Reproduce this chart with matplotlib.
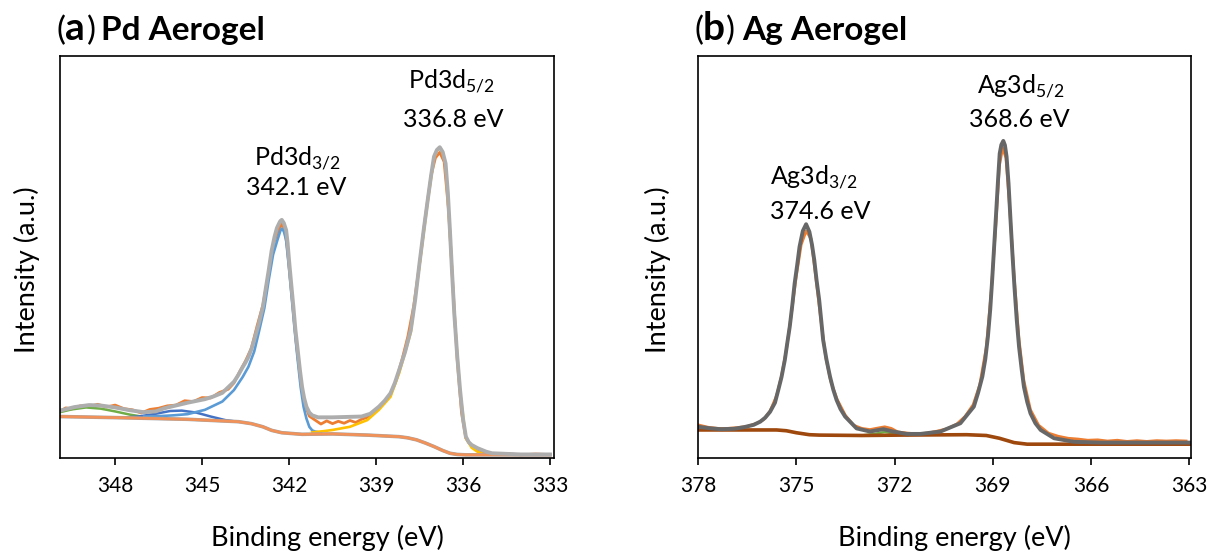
import matplotlib
matplotlib.use('Agg')
import matplotlib.pyplot as plt

plt.rcParams['font.family'] = ['Lato', 'DejaVu Sans']
plt.rcParams['mathtext.fontset'] = 'custom'
plt.rcParams['mathtext.rm'] = 'Lato'
plt.rcParams['lines.solid_joinstyle'] = 'round'

# ---- (a) Pd aerogel, Pd 3d region (binding energy eV, intensity a.u.) ----
pd_raw_e = [349.9, 349.7, 349.5, 349.2, 348.9, 348.6, 348.3, 348.0, 347.7, 347.4, 347.1, 346.8,
            346.5, 346.2, 345.9, 345.6, 345.3, 345.0, 344.7, 344.4, 344.1, 343.9, 343.7, 343.5,
            343.3, 343.1, 342.9, 342.7, 342.5, 342.35, 342.25, 342.15, 342.05, 341.9, 341.75,
            341.6, 341.45, 341.3, 341.1, 340.9, 340.7, 340.5, 340.3, 340.1, 339.9, 339.7, 339.5,
            339.3, 339.1, 338.9, 338.7, 338.5, 338.3, 338.1, 337.9, 337.7, 337.5, 337.3, 337.1,
            336.95, 336.8, 336.65, 336.5, 336.35, 336.2, 336.05, 335.9, 335.7, 335.5, 335.3,
            335.0, 334.5, 334.0, 333.5, 333.1]
pd_raw_i = [11.8, 12.7, 12.4, 13.2, 13.0, 13.6, 12.9, 13.4, 12.5, 12.2, 11.4, 12.3,
            12.6, 13.2, 13.4, 14.5, 14.3, 15.3, 15.2, 16.6, 17.4, 19.0, 21.9, 24.6,
            27.8, 33.5, 38.8, 47.0, 55.0, 58.0, 59.2, 58.0, 52.5, 41.0, 29.0,
            19.5, 13.5, 10.6, 9.6, 8.6, 9.4, 8.7, 9.3, 8.8, 9.5, 9.0, 9.8,
            10.3, 11.4, 12.6, 14.3, 16.2, 19.8, 25.0, 30.8, 38.5, 49.0, 61.0, 71.5,
            76.0, 77.4, 75.0, 63.0, 44.0, 25.0, 11.5, 5.0, 3.0, 2.0, 1.3,
            1.0, 1.1, 0.8, 1.0, 0.9]

pd_fit_e = [349.9, 349.4, 348.9, 348.5, 348.0, 347.5, 347.0, 346.6, 346.3, 345.9, 345.5, 344.9,
            344.6, 344.3, 343.9, 343.75, 343.6, 343.5, 343.4, 343.3, 343.2, 343.05, 342.9,
            342.8, 342.7, 342.6, 342.5, 342.42, 342.35, 342.3, 342.25, 342.18, 342.1, 342.05,
            342.0, 341.93, 341.85, 341.78, 341.7, 341.62, 341.55, 341.48, 341.4, 341.3, 341.2,
            341.0, 340.5, 340.0, 339.5, 339.2, 338.9, 338.7, 338.5, 338.35, 338.2, 338.0,
            337.8, 337.65, 337.5, 337.35, 337.2, 337.1, 337.0, 336.9, 336.8, 336.7, 336.6,
            336.52, 336.45, 336.38, 336.3, 336.2, 336.1, 336.0, 335.9, 335.8, 335.7, 335.5,
            335.2, 335.0, 334.0, 333.0]
pd_fit_i = [12.0, 12.9, 13.4, 13.3, 12.8, 12.1, 11.6, 11.8, 12.6, 13.3, 14.0, 14.9,
            15.6, 16.5, 19.3, 21.0, 23.0, 24.2, 25.6, 27.5, 29.9, 33.8, 38.3,
            43.0, 47.6, 52.5, 56.0, 58.2, 59.3, 60.0, 60.3, 59.5, 57.7, 54.5,
            50.1, 44.5, 38.3, 32.5, 27.3, 22.0, 18.0, 15.2, 13.0, 11.5, 10.8,
            10.3, 10.3, 10.4, 10.5, 11.2, 13.0, 14.5, 16.4, 19.0, 22.3, 26.8,
            32.4, 40.0, 49.3, 58.0, 66.2, 71.5, 76.3, 78.0, 78.7, 77.5, 74.6,
            67.0, 57.7, 47.5, 36.6, 26.0, 17.2, 10.0, 5.4, 4.0, 3.3, 2.5,
            1.6, 1.2, 0.9, 0.9]

pd_32_e = [347.0, 346.5, 346.0, 345.5, 344.9, 344.3, 343.9, 343.6, 343.4, 343.2, 343.05, 342.85,
           342.7, 342.55, 342.4, 342.3, 342.25, 342.18, 342.1, 342.0, 341.9, 341.8, 341.7,
           341.6, 341.5, 341.4, 341.3, 341.2, 341.1, 340.9]
pd_32_i = [10.5, 10.6, 10.8, 11.1, 12.2, 14.3, 17.2, 20.5, 23.1, 27.0, 31.6, 38.0,
           45.1, 51.5, 55.2, 57.5, 58.1, 57.4, 55.2, 48.0, 40.0, 32.0, 24.8,
           18.0, 13.0, 10.0, 7.9, 7.0, 6.7, 6.4]

pd_sat1_e = [347.8, 347.2, 346.6, 346.1, 345.7, 345.2, 344.7, 344.2, 343.8]
pd_sat1_i = [10.2, 10.5, 11.2, 11.9, 12.0, 11.5, 10.5, 9.6, 9.2]

pd_sat2_e = [349.9, 349.5, 349.0, 348.5, 348.0, 347.5, 347.0]
pd_sat2_i = [11.6, 12.3, 12.8, 12.5, 11.8, 11.0, 10.4]

pd_52_e = [341.2, 340.8, 340.5, 339.9, 339.3, 338.9, 338.5, 338.2, 337.8, 337.5, 337.2, 337.0,
           336.9, 336.8, 336.7, 336.6, 336.45, 336.3, 336.1, 335.9, 335.7, 335.5, 335.3]
pd_52_i = [6.5, 6.8, 7.1, 7.9, 9.6, 12.2, 15.5, 21.5, 31.8, 48.8, 65.8, 76.0,
           77.8, 78.5, 77.3, 74.3, 57.4, 36.3, 16.8, 5.0, 2.6, 1.6, 1.0]

pd_bg_e = [349.9, 347.8, 345.5, 343.75, 343.3, 342.9, 342.6, 342.25, 341.55, 340.5, 339.3,
           338.2, 337.9, 337.6, 337.3, 337.0, 336.7, 336.45, 336.2, 335.9, 333.0]
pd_bg_i = [10.5, 10.2, 9.8, 9.2, 8.7, 7.9, 7.0, 6.4, 6.0, 6.1, 5.8,
           5.4, 5.1, 4.6, 3.8, 2.9, 1.9, 1.2, 0.9, 0.8, 0.8]

# ---- (b) Ag aerogel, Ag 3d region ----
ag_raw_e = [378.0, 377.7, 377.4, 377.1, 376.8, 376.5, 376.2, 376.0, 375.8, 375.6, 375.45, 375.3,
            375.15, 375.0, 374.85, 374.7, 374.55, 374.4, 374.25, 374.1, 373.95, 373.75, 373.5,
            373.25, 373.0, 372.75, 372.5, 372.3, 372.1, 371.9, 371.6, 371.3, 371.0, 370.7,
            370.4, 370.1, 369.85, 369.6, 369.4, 369.2, 369.05, 368.9, 368.8, 368.7, 368.6,
            368.5, 368.35, 368.2, 368.05, 367.85, 367.6, 367.3, 367.0, 366.7, 366.4, 366.1,
            365.8, 365.5, 365.2, 364.9, 364.6, 364.3, 364.0, 363.7, 363.4, 363.1]
ag_raw_i = [8.4, 7.8, 7.5, 7.5, 7.7, 8.0, 8.8, 9.7, 11.9, 15.8, 20.8, 27.5,
            36.5, 46.0, 54.0, 57.5, 55.5, 45.5, 35.0, 25.5, 19.5, 14.8, 10.8,
            8.3, 7.5, 7.2, 7.6, 7.9, 7.5, 6.6, 6.3, 6.1, 6.3, 6.8,
            7.4, 8.6, 10.5, 13.5, 18.5, 28.0, 42.0, 60.0, 74.0, 78.5, 76.0,
            65.0, 46.0, 30.0, 19.5, 12.2, 8.3, 6.3, 5.5, 5.0, 4.8, 4.5,
            4.6, 4.3, 4.5, 4.2, 4.4, 4.2, 4.4, 4.3, 4.4, 4.3]

ag_fit_e = [378.0, 377.6, 377.3, 376.9, 376.6, 376.3, 376.1, 375.95, 375.8, 375.65, 375.55,
            375.45, 375.35, 375.28, 375.2, 375.12, 375.05, 374.97, 374.9, 374.8, 374.7, 374.6,
            374.52, 374.45, 374.38, 374.3, 374.24, 374.18, 374.08, 373.97, 373.87, 373.77,
            373.65, 373.51, 373.16, 372.75, 372.34, 372.04, 371.63, 371.21, 370.6,
            369.99, 369.58, 369.45, 369.32, 369.23, 369.15, 369.08, 369.02, 368.96, 368.9,
            368.84, 368.79, 368.74, 368.68, 368.63, 368.58, 368.52, 368.46, 368.4, 368.34,
            368.27, 368.2, 368.12, 368.05, 367.95, 367.85, 367.7, 367.54, 367.13, 366.52,
            365.7, 362.95]
ag_fit_i = [7.9, 7.5, 7.3, 7.4, 7.8, 8.4, 9.2, 10.2, 11.7, 14.0, 17.2,
            20.5, 24.8, 28.8, 33.2, 38.8, 44.2, 49.0, 53.5, 57.5, 59.2, 57.3,
            54.0, 50.1, 45.0, 40.0, 35.0, 29.9, 25.0, 20.6, 17.3, 14.7,
            12.4, 10.5, 7.5, 6.7, 7.3, 6.7, 6.1, 6.1, 6.7,
            8.8, 13.0, 16.5, 20.6, 25.0, 30.7, 37.5, 45.1, 53.5, 61.9,
            70.5, 77.1, 79.3, 80.3, 79.2, 76.3, 69.5, 60.3, 51.5, 43.4,
            35.0, 28.2, 22.5, 18.0, 14.2, 11.3, 8.8, 7.1, 5.0, 4.1,
            3.9, 3.9]

ag_sat_e = [373.0, 372.6, 372.3, 372.0, 371.6]
ag_sat_i = [5.7, 6.1, 6.6, 6.2, 5.8]

ag_bg_e = [378.0, 375.6, 375.3, 375.0, 374.6, 374.3, 373.0, 371.8, 369.8, 369.2, 368.8,
           368.35, 367.95, 362.95]
ag_bg_i = [7.1, 7.1, 6.9, 6.4, 5.9, 5.8, 5.7, 5.8, 5.9, 5.7, 5.0,
           3.9, 3.5, 3.5]

pd_ticks = [348, 345, 342, 339, 336, 333]
ag_ticks = [378, 375, 372, 369, 366, 363]

W, H = 1208, 555
fig = plt.figure(figsize=(W / 100, H / 100), dpi=100)
ax_a = fig.add_axes([60 / W, 97 / H, 494 / W, 402 / H])
ax_b = fig.add_axes([698 / W, 97 / H, 493 / W, 402 / H])

# panel a
ax_a.plot(pd_raw_e, pd_raw_i, color='#ED7D31', lw=2.0)
ax_a.plot(pd_sat2_e, pd_sat2_i, color='#70AD47', lw=1.8)
ax_a.plot(pd_sat1_e, pd_sat1_i, color='#4472C4', lw=1.8)
ax_a.plot(pd_32_e, pd_32_i, color='#5B9BD5', lw=1.9)
ax_a.plot(pd_52_e, pd_52_i, color='#FFC000', lw=1.9)
ax_a.plot(pd_bg_e, pd_bg_i, color='#A5A5A5', lw=2.6)
ax_a.plot(pd_bg_e, pd_bg_i, color='#F0925A', lw=2.0)
ax_a.plot(pd_fit_e, pd_fit_i, color='#ADADAD', lw=2.8)
ax_a.set_xlim(349.9, 332.86)
ax_a.set_xticks(pd_ticks)

# panel b
ax_b.plot(ag_raw_e, ag_raw_i, color='#ED7D31', lw=2.0)
ax_b.plot(ag_sat_e, ag_sat_i, color='#70AD47', lw=1.8)
ax_b.plot(ag_bg_e, ag_bg_i, color='#9E480E', lw=2.6)
ax_b.plot(ag_fit_e, ag_fit_i, color='#676767', lw=2.8)
ax_b.set_xlim(378, 362.95)
ax_b.set_xticks(ag_ticks)

for ax in (ax_a, ax_b):
    ax.set_ylim(0, 101.8)
    ax.set_yticks([])
    for s in ax.spines.values():
        s.set_linewidth(1.2)
    ax.tick_params(axis='x', direction='out', length=5, width=1.2, labelsize=15, pad=8)
    ax.set_xlabel('Binding energy (eV)', fontsize=19.5, va='baseline')
    ax.set_ylabel('Intensity (a.u.)', fontsize=19.5)

# x label baseline at about y=546 px
ax_a.xaxis.set_label_coords(0.541, -0.218)
ax_b.xaxis.set_label_coords(0.52, -0.218)
ax_a.yaxis.set_label_coords(-0.041, 0.468)
ax_b.yaxis.set_label_coords(-0.055, 0.468)

# peak labels
ax_a.text(336.38, 95.5, r'Pd3d$_{\mathregular{5/2}}$', fontsize=18, ha='center', va='center')
ax_a.text(336.34, 85.6, '336.8 eV', fontsize=18, ha='center', va='center')
ax_a.text(341.72, 76.0, r'Pd3d$_{\mathregular{3/2}}$', fontsize=18, ha='center', va='center')
ax_a.text(341.76, 68.4, '342.1 eV', fontsize=18, ha='center', va='center')
ax_b.text(368.13, 94.2, r'Ag3d$_{\mathregular{5/2}}$', fontsize=18, ha='center', va='center')
ax_b.text(368.19, 85.6, '368.6 eV', fontsize=18, ha='center', va='center')
ax_b.text(374.45, 71.0, r'Ag3d$_{\mathregular{3/2}}$', fontsize=18, ha='center', va='center')
ax_b.text(374.27, 62.3, '374.6 eV', fontsize=18, ha='center', va='center')


# panel titles: "(" letter ")" name
def px(x, y):
    return x / W, 1 - y / H


for xs, letter, name in [((56, 65, 87, 101), 'a', 'Pd Aerogel'),
                         ((694, 703, 726, 742), 'b', 'Ag Aerogel')]:
    fig.text(*px(xs[0], 40), '(', fontsize=24, va='baseline', ha='left')
    fig.text(*px(xs[1], 40), letter, fontsize=28, fontweight='bold', va='baseline', ha='left')
    fig.text(*px(xs[2], 40), ')', fontsize=24, va='baseline', ha='left')
    fig.text(*px(xs[3], 40), name, fontsize=24, fontweight='bold', va='baseline', ha='left')

fig.savefig('out.png', dpi=100)
